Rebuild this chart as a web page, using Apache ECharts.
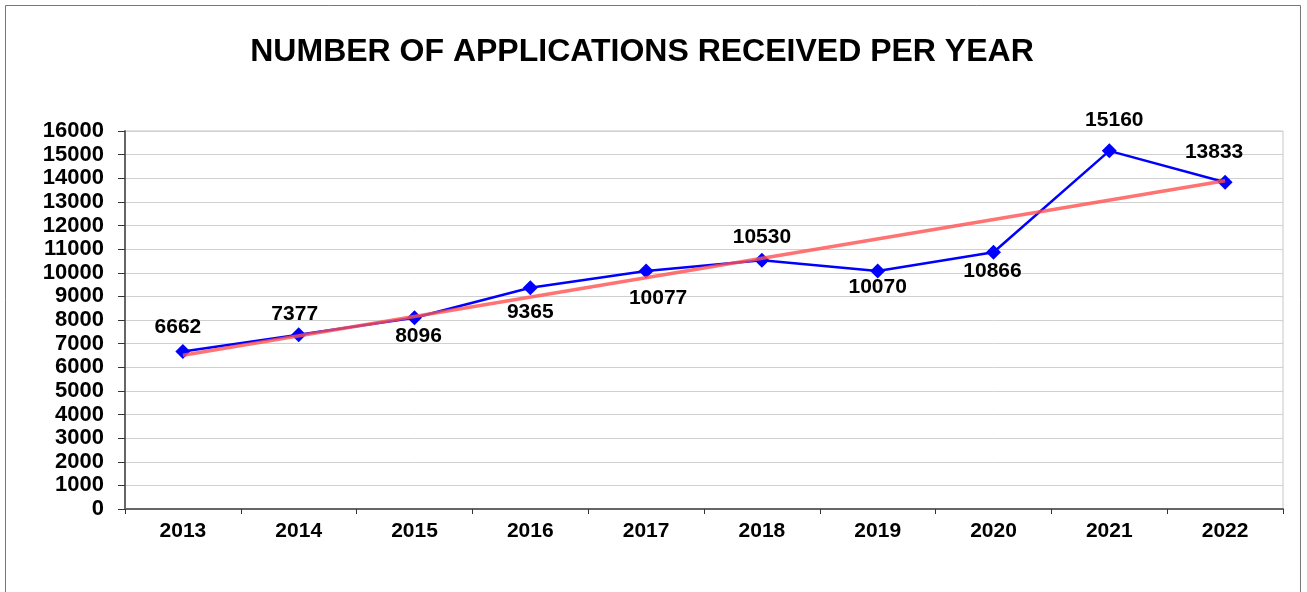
<!DOCTYPE html>
<html>
<head>
<meta charset="utf-8">
<script src="https://cdn.jsdelivr.net/npm/echarts@6/dist/echarts.min.js"></script>
<style>
html,body{margin:0;padding:0;background:#fff;}
#main{width:1307px;height:592px;}
</style>
</head>
<body>
<div id="main"></div>
<script>
// 年份 / 申请数量
var years = ['2013','2014','2015','2016','2017','2018','2019','2020','2021','2022'];
var applications = [6662, 7377, 8096, 9365, 10077, 10530, 10070, 10866, 15160, 13833];
// 标签位置 (上/下)
var labelPos = ['top','top','bottom','bottom','bottom','top','bottom','bottom','top','top'];
// 趋势线 两端
var trendStart = ['2013', 6510];
var trendEnd = ['2022', 13897];

// 个别标签微调 [x, y]
var labelTweak = [[-5, 0], [-4, 3], [4, -6], [0, 0], [12, 3], [0, 1], [0, -8], [-1, -5], [5, -7], [-11, -6]];

var pointData = applications.map(function(v, i){
    return {
        value: v,
        label: { position: labelPos[i], offset: labelTweak[i] }
    };
});

var option = {
    backgroundColor: '#fff',
    animation: false,
    title: {
        text: 'NUMBER OF APPLICATIONS RECEIVED PER YEAR',
        left: 637,
        top: 31,
        textAlign: 'center',
        textStyle: { fontFamily: 'Liberation Sans', fontSize: 32, fontWeight: 'bold', color: '#000' }
    },
    graphic: [{
        type: 'rect',
        shape: { x: 5.5, y: 5.5, width: 1295, height: 600 },
        style: { fill: 'none', stroke: '#777', lineWidth: 1 },
        silent: true
    }, {
        type: 'rect',
        shape: { x: 125, y: 131, width: 1158, height: 378 },
        style: { fill: 'none', stroke: '#c8c8c8', lineWidth: 1 },
        silent: true
    }],
    grid: { left: 125, right: 24, top: 131, bottom: 83, containLabel: false },
    xAxis: {
        type: 'category',
        data: years,
        boundaryGap: true,
        axisLine: { lineStyle: { color: '#666', width: 2 } },
        axisTick: { show: true, length: 5, lineStyle: { color: '#333' } },
        axisLabel: { fontFamily: 'Liberation Sans', fontSize: 21, fontWeight: 'bold', color: '#000', margin: 12 },
        splitLine: { show: false }
    },
    yAxis: {
        type: 'value',
        min: 0,
        max: 16000,
        interval: 1000,
        axisLine: { show: true, lineStyle: { color: '#666', width: 2 } },
        axisTick: { show: true, length: 7, lineStyle: { color: '#333' } },
        axisLabel: {
            fontFamily: 'Liberation Sans', fontSize: 22, fontWeight: 'bold', color: '#000', margin: 21,
            formatter: function(v){ return String(v); }
        },
        splitLine: { lineStyle: { color: '#d0d0d0', width: 1 } }
    },
    series: [{
        name: 'Applications',
        type: 'line',
        data: pointData,
        symbol: 'diamond',
        symbolSize: 15,
        itemStyle: { color: '#0000ff' },
        lineStyle: { color: '#0000ff', width: 2.5 },
        label: {
            show: true,
            distance: 6,
            fontFamily: 'Liberation Sans',
            fontSize: 21,
            fontWeight: 'bold',
            color: '#000'
        },
        z: 2
    }, {
        name: 'Trend',
        type: 'line',
        data: [trendStart, trendEnd],
        symbol: 'none',
        lineStyle: { color: '#ff5050', width: 3.5, opacity: 0.8 },
        z: 3
    }]
};

var chart = echarts.init(document.getElementById('main'));
chart.setOption(option);
</script>
</body>
</html>
